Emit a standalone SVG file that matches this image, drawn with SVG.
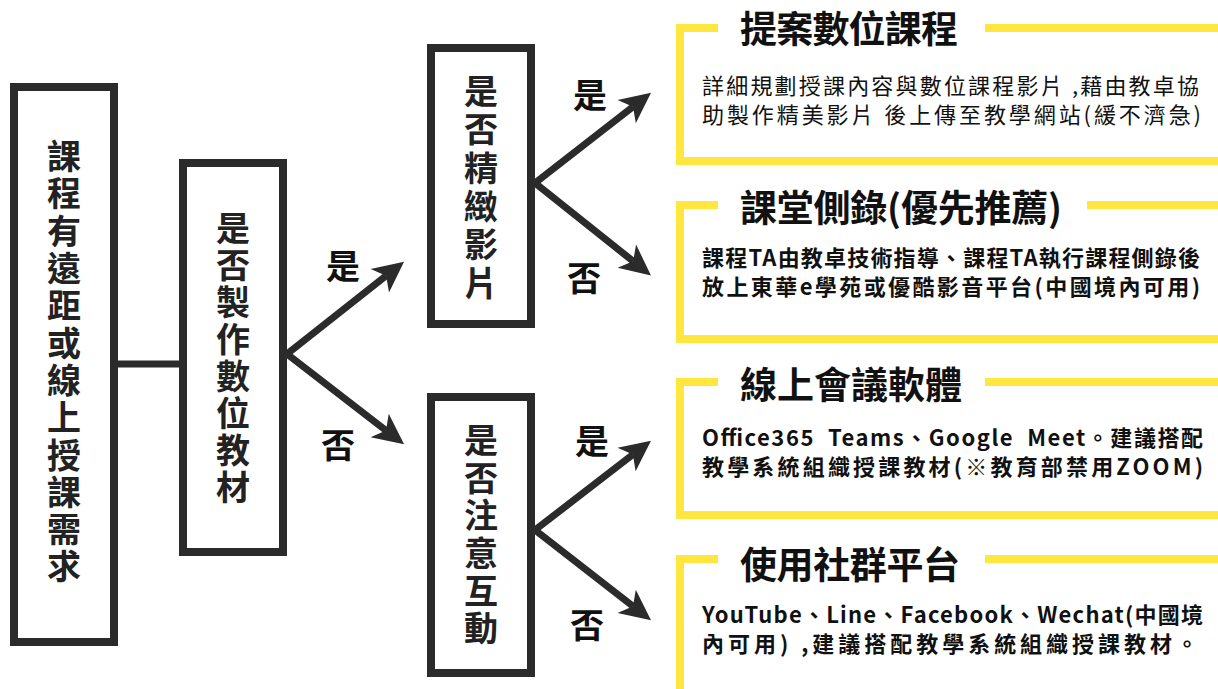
<svg xmlns="http://www.w3.org/2000/svg" width="1218" height="689" viewBox="0 0 1218 689">
<style>
.box{fill:#fff;stroke:#2b2b2b;stroke-width:8}
.vt{font-family:"Noto Sans CJK TC","Noto Sans CJK SC",sans-serif;font-weight:bold;font-size:34px;fill:#222;text-anchor:middle;writing-mode:vertical-rl}
.lbl{font-family:"Noto Sans CJK TC","Noto Sans CJK SC",sans-serif;font-weight:bold;font-size:34px;fill:#111;text-anchor:middle}
.conn{stroke:#2b2b2b;stroke-width:7;fill:none}
.yl{stroke:#FFE740;stroke-width:8;fill:none}
.title{font-family:"Noto Sans CJK TC","Noto Sans CJK SC",sans-serif;font-weight:bold;font-size:37px;fill:#111}
.body{font-family:"Noto Sans CJK TC","Noto Sans CJK SC",sans-serif;font-size:22px;fill:#111}
.bb{font-weight:bold}
</style>
<defs>
<marker id="ah" markerUnits="userSpaceOnUse" markerWidth="40" markerHeight="40" viewBox="-10 -15 35 30" refX="0" refY="0" orient="auto">
<path d="M20 0 L-7 -13 L0 0 L-7 13 Z" fill="#2b2b2b"/>
</marker>
</defs>
<rect width="1218" height="689" fill="#fff"/>

<g id="connectors">
<line class="conn" x1="118" y1="364" x2="179" y2="364"/>
<line class="conn" x1="287" y1="354" x2="386.1" y2="275.8" marker-end="url(#ah)"/>
<line class="conn" x1="287" y1="354" x2="386.0" y2="430.4" marker-end="url(#ah)"/>
<line class="conn" x1="535" y1="183" x2="633.0" y2="106.7" marker-end="url(#ah)"/>
<line class="conn" x1="535" y1="183" x2="633.1" y2="261.2" marker-end="url(#ah)"/>
<line class="conn" x1="535" y1="530" x2="632.9" y2="454.6" marker-end="url(#ah)"/>
<line class="conn" x1="535" y1="530" x2="633.0" y2="606.3" marker-end="url(#ah)"/>
<text class="lbl" x="343" y="279">是</text>
<text class="lbl" x="338" y="458">否</text>
<text class="lbl" x="590" y="108">是</text>
<text class="lbl" x="584" y="291">否</text>
<text class="lbl" x="592" y="454">是</text>
<text class="lbl" x="587" y="638">否</text>
</g>

<g id="node-need">
<rect class="box" x="14" y="87" width="100" height="555"/>
<text class="vt" x="64" y="363" letter-spacing="3.3">課程有遠距或線上授課需求</text>
</g>

<g id="node-digital">
<rect class="box" x="183" y="163" width="100" height="389"/>
<text class="vt" x="233" y="359" letter-spacing="2.9">是否製作數位教材</text>
</g>

<g id="node-video">
<rect class="box" x="431" y="48" width="100" height="276"/>
<text class="vt" x="481" y="189" letter-spacing="4.4">是否精緻影片</text>
</g>

<g id="node-interact">
<rect class="box" x="431" y="397" width="100" height="276"/>
<text class="vt" x="481" y="536" letter-spacing="3.6">是否注意互動</text>
</g>

<g id="panel-proposal">
<path class="yl" d="M718 28 H680 V161 H1218 M985 28 H1218"/>
<text class="title" x="740" y="43" textLength="218" lengthAdjust="spacing">提案數位課程</text>
<text class="body" x="702" y="94" textLength="497" lengthAdjust="spacing">詳細規劃授課內容與數位課程影片 ,藉由教卓協</text>
<text class="body" x="702" y="123" textLength="499" lengthAdjust="spacing">助製作精美影片 後上傳至教學網站(緩不濟急)</text>
</g>

<g id="panel-record">
<path class="yl" d="M718 205 H680 V339 H1218 M1087 205 H1218"/>
<text class="title" x="740" y="222" textLength="322" lengthAdjust="spacing">課堂側錄(優先推薦)</text>
<text class="body bb" x="702" y="266" textLength="498" lengthAdjust="spacing">課程TA由教卓技術指導、課程TA執行課程側錄後</text>
<text class="body bb" x="702" y="295" textLength="498" lengthAdjust="spacing">放上東華e學苑或優酷影音平台(中國境內可用)</text>
</g>

<g id="panel-meeting">
<path class="yl" d="M718 382 H680 V515 H1218 M985 382 H1218"/>
<text class="title" x="740" y="399" textLength="222" lengthAdjust="spacing">線上會議軟體</text>
<text class="body bb" x="702" y="446" textLength="501" lengthAdjust="spacing" xml:space="preserve">Office365  Teams、Google  Meet。建議搭配</text>
<text class="body bb" x="702" y="475" textLength="501" lengthAdjust="spacing">教學系統組織授課教材(※教育部禁用ZOOM)</text>
</g>

<g id="panel-social">
<path class="yl" d="M718 559 H680 V689 M985 559 H1218"/>
<text class="title" x="740" y="579" textLength="220" lengthAdjust="spacing">使用社群平台</text>
<text class="body bb" x="702" y="623" textLength="501" lengthAdjust="spacing">YouTube、Line、Facebook、Wechat(中國境</text>
<text class="body bb" x="702" y="652" textLength="496" lengthAdjust="spacing">內可用) ,建議搭配教學系統組織授課教材。</text>
</g>
</svg>
